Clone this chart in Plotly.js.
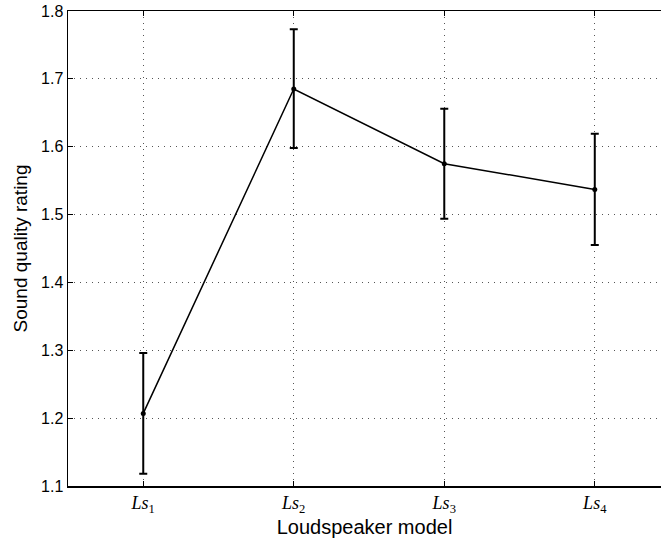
<!DOCTYPE html>
<html>
<head>
<meta charset="utf-8">
<script src="https://cdn.plot.ly/plotly-3.0.1.min.js"></script>
<style>html,body{margin:0;padding:0;background:#fff;}</style>
</head>
<body>
<div id="chart" style="width:661px;height:538px;"></div>
<script>
const positions = [1, 2, 3, 4];
const tickLabels = ['<i>Ls</i><sub>1</sub>', '<i>Ls</i><sub>2</sub>', '<i>Ls</i><sub>3</sub>', '<i>Ls</i><sub>4</sub>'];
const rating = [1.207, 1.685, 1.575, 1.537];
const errPlus = [0.089, 0.088, 0.081, 0.082];
const errMinus = [0.089, 0.087, 0.081, 0.082];

const trace = {
  x: positions,
  y: rating,
  type: 'scatter',
  mode: 'lines+markers',
  line: {color: '#000', width: 1.5},
  marker: {color: '#000', size: 5},
  error_y: {type: 'data', symmetric: false, array: errPlus, arrayminus: errMinus, color: '#000', thickness: 2, width: 4},
  showlegend: false,
  hoverinfo: 'skip'
};

const layout = {
  width: 661, height: 538,
  margin: {l: 68, r: 0, t: 11, b: 52},
  paper_bgcolor: '#fff', plot_bgcolor: '#fff',
  font: {family: 'Liberation Sans, Arial, sans-serif', color: '#000'},
  xaxis: {
    range: [0.5, 4.44], autorange: false,
    tickmode: 'array', tickvals: positions, ticktext: tickLabels,
    tickfont: {family: 'Liberation Serif, DejaVu Serif, serif', size: 18},
    ticks: 'inside', ticklen: 5, tickcolor: '#000', tickwidth: 1,
    showline: true, linecolor: '#000', linewidth: 1.5, mirror: 'ticks',
    showgrid: true, gridcolor: '#555', griddash: '1px,5px', gridwidth: 1,
    zeroline: false,
    title: {text: 'Loudspeaker model', font: {size: 20}, standoff: 6}
  },
  yaxis: {
    range: [1.1, 1.8], autorange: false,
    dtick: 0.1, tick0: 1.1, tickformat: '.1f',
    tickfont: {size: 16},
    ticks: 'inside', ticklen: 5, tickcolor: '#000', tickwidth: 1,
    showline: true, linecolor: '#000', linewidth: 1.5, mirror: false,
    showgrid: true, gridcolor: '#555', griddash: '1px,5px', gridwidth: 1,
    zeroline: false,
    title: {text: 'Sound quality rating', font: {size: 19}, standoff: 8}
  }
};

Plotly.newPlot('chart', [trace], layout, {displayModeBar: false, staticPlot: true});
</script>
</body>
</html>
